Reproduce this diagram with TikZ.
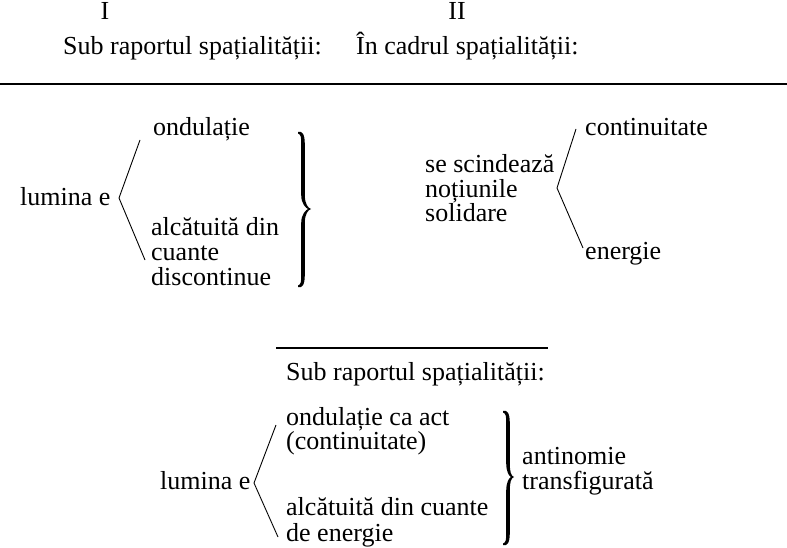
\documentclass[tikz,border=0pt]{standalone}
\usepackage{fontspec}
\setmainfont{Liberation Serif}
% #1 x of the ends, #2 x of the stem, #3 x of the tip, #4 top y, #5 middle y, #6 bottom y
\newcommand\drawbrace[6]{%
  \fill[bracefill]
    (#1,#4) .. controls ({#2-1},{#4-1.5}) and ({#2+1.8},{#4+2}) .. ({#2+1.8},{#4+12})
    -- ({#2+1.8},{#5-14}) .. controls ({#2+1.8},{#5-5}) and ({#3-3},{#5-1}) .. (#3,#5)
    .. controls ({#3-3},{#5+1}) and ({#2+1.8},{#5+5}) .. ({#2+1.8},{#5+14})
    -- ({#2+1.8},{#6-12}) .. controls ({#2+1.8},{#6-2}) and ({#2-1},{#6+1.5}) .. (#1,#6)
    -- (#1,{#6-1.5}) .. controls ({#2-2},{#6-2.5}) and ({#2-1.8},{#6-5}) .. ({#2-1.8},{#6-12})
    -- ({#2-1.8},{#5+14}) .. controls ({#2-1.8},{#5+5}) and ({#3-5},{#5+1}) .. ({#3-3},#5)
    .. controls ({#3-5},{#5-1}) and ({#2-1.8},{#5-5}) .. ({#2-1.8},{#5-14})
    -- ({#2-1.8},{#4+12}) .. controls ({#2-1.8},{#4+5}) and ({#2-2},{#4+2.5}) .. (#1,{#4+1.5})
    -- cycle;}
\begin{document}
\begin{tikzpicture}[x=1pt,y=-1pt,
  txt/.style={inner sep=0pt, anchor=base west, font=\fontsize{26}{26}\selectfont},
  ctr/.style={txt, anchor=base},
  bracefill/.style={fill=black},
  fork/.style={line width=0.9pt},
  rule/.style={line width=1.3pt}]
\useasboundingbox (0,0) rectangle (787,548);
% headings
\node[ctr] (h1) at (105,20) {I};
\node[txt] (t1) at (63,55) {Sub raportul spațialității:};
\node[ctr] (h2) at (457,20) {II};
\node[txt] (t2) at (356,55) {În cadrul spațialității:};
\draw[rule] (0,84) -- (787,84);
% left block
\node[txt] (lum1) at (20,206) {lumina e};
\node[txt] (ond1) at (153,136) {ondulație};
\node[txt] (alc1) at (151,236) {alcătuită din};
\node[txt] (alc2) at (151,260.5) {cuante};
\node[txt] (alc3) at (151,285) {discontinue};
\coordinate (f1t) at (140,140);
\coordinate (f1v) at (119,198);
\coordinate (f1b) at (145,260);
\draw[fork] (f1t) -- (f1v) -- (f1b);
\drawbrace{298}{303}{311}{132}{209}{287}
% right block
\node[txt] (sc1) at (425,173) {se scindează};
\node[txt] (sc2) at (425,197.5) {noțiunile};
\node[txt] (sc3) at (425,222) {solidare};
\coordinate (f2t) at (576,129);
\coordinate (f2v) at (557,188);
\coordinate (f2b) at (583,248);
\draw[fork] (f2t) -- (f2v) -- (f2b);
\node[txt] (con) at (585,136) {continuitate};
\node[txt] (ene) at (585,259) {energie};
% bottom block
\draw[rule] (276,348) -- (548,348);
\node[txt] (t3) at (286,380) {Sub raportul spațialității:};
\node[txt] (ond2) at (286,425) {ondulație ca act};
\node[txt] (ond3) at (286,449) {(continuitate)};
\node[txt] (lum2) at (160,489) {lumina e};
\node[txt] (alc4) at (286,515.5) {alcătuită din cuante};
\node[txt] (alc5) at (286,541.5) {de energie};
\coordinate (f3t) at (276,425);
\coordinate (f3v) at (254,483);
\coordinate (f3b) at (278,537);
\draw[fork] (f3t) -- (f3v) -- (f3b);
\drawbrace{503}{508}{514}{411}{477}{545}
\node[txt] (ant1) at (522,464) {antinomie};
\node[txt] (ant2) at (522,489) {transfigurată};
\end{tikzpicture}
\end{document}
